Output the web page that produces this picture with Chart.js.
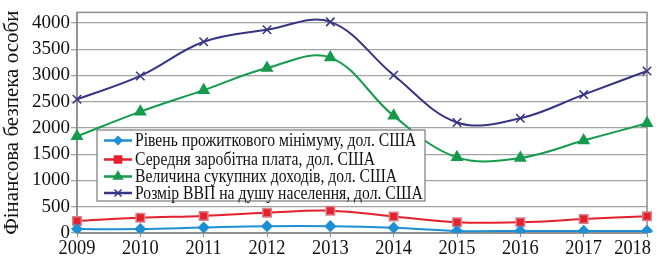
<!DOCTYPE html>
<html>
<head>
<meta charset="utf-8">
<script src="https://cdn.jsdelivr.net/npm/chart.js@4"></script>
<style>
  html, body { margin: 0; padding: 0; background: #fff; }
  #wrap { width: 663px; height: 256px; position: relative; }
</style>
</head>
<body>
<div id="wrap"><canvas id="incomeChart"></canvas></div>
<script>
const years = ["2009","2010","2011","2012","2013","2014","2015","2016","2017","2018"];
const subsistence = [75, 75, 105, 130, 130, 100, 40, 40, 40, 40];
const wage = [230, 290, 325, 385, 425, 315, 205, 205, 265, 320];
const income = [1840, 2310, 2720, 3140, 3340, 2230, 1440, 1430, 1760, 2090];
const gdp = [2545, 2990, 3640, 3870, 4020, 3005, 2105, 2185, 2635, 3085];
const yTicks = [0, 500, 1000, 1500, 2000, 2500, 3000, 3500, 4000];

const seriesNames = [
    "Рівень прожиткового мінімуму, дол. США",
    "Середня заробітна плата, дол. США",
    "Величина сукупних доходів, дол. США",
    "Розмір ВВП на душу населення, дол. США"
];

const serif = "'Liberation Serif', 'DejaVu Serif', serif";

// plot frame, year labels and the legend box inside the plot
const boxLegend = {
    id: "boxLegend",
    beforeDatasetsDraw(chart) {
        const a = chart.chartArea;
        const ctx = chart.ctx;
        ctx.save();
        ctx.strokeStyle = "#8c8c8c";
        ctx.lineWidth = 1.5;
        ctx.strokeRect(a.left, a.top, a.right - a.left, a.bottom - a.top);
        // year labels (a bit narrow, like the scan), last one kept inside
        const xs = chart.scales.x;
        ctx.font = "20px " + serif;
        ctx.fillStyle = "#111";
        ctx.textBaseline = "top";
        ctx.textAlign = "center";
        const sx = 0.92;
        years.forEach((yr, i) => {
            let px = xs.getPixelForTick(i);
            const half = ctx.measureText(yr).width * sx / 2;
            if (px + half > 651) px = 651 - half;
            ctx.save();
            ctx.translate(px, a.bottom + 6);
            ctx.scale(sx, 1);
            ctx.fillText(yr, 0, 0);
            ctx.restore();
        });
        ctx.restore();
    },
    afterDatasetsDraw(chart) {
        const ctx = chart.ctx;
        const x0 = 97, y0 = 130, w = 328, h = 71;
        ctx.save();
        ctx.fillStyle = "#fff";
        ctx.fillRect(x0, y0, w, h);
        ctx.strokeStyle = "#7a7a7a";
        ctx.lineWidth = 1.2;
        ctx.strokeRect(x0, y0, w, h);
        const rows = [140.5, 159.5, 176.5, 193];
        chart.data.datasets.forEach((ds, i) => {
            const y = rows[i];
            ctx.strokeStyle = ds.borderColor;
            ctx.fillStyle = ds.borderColor;
            ctx.lineWidth = 2.5;
            ctx.beginPath();
            ctx.moveTo(104, y);
            ctx.lineTo(132, y);
            ctx.stroke();
            ctx.lineWidth = 1.5;
            Chart.helpers.drawPoint(ctx, {
                pointStyle: ds.pointStyle,
                radius: ds.pointRadius - 1,
                borderWidth: 1.5
            }, 118, y);
            ctx.save();
            ctx.translate(135, y + 1);
            ctx.scale(0.87, 1);
            ctx.font = "18px " + serif;
            ctx.textBaseline = "middle";
            ctx.textAlign = "left";
            ctx.fillStyle = "#111";
            ctx.fillText(ds.label, 0, 0);
            ctx.restore();
        });
        ctx.restore();
    }
};

function lineSet(label, data, color, style, radius, edge) {
    return {
        label: label,
        data: data,
        borderColor: color,
        backgroundColor: color,
        pointBackgroundColor: color,
        pointBorderColor: edge || color,
        borderWidth: 2,
        pointStyle: style,
        pointRadius: radius,
        pointBorderWidth: 1.5,
        tension: 0.37,
        fill: false
    };
}

new Chart(document.getElementById("incomeChart"), {
    type: "line",
    data: {
        labels: years,
        datasets: [
            lineSet(seriesNames[0], subsistence, "#1f8fd3", "rectRot", 5),
            lineSet(seriesNames[1], wage, "#e3202c", "rect", 6, "#d9808a"),
            lineSet(seriesNames[2], income, "#169a4b", "triangle", 6),
            lineSet(seriesNames[3], gdp, "#363584", "crossRot", 6)
        ]
    },
    options: {
        responsive: true,
        maintainAspectRatio: false,
        animation: false,
        layout: { padding: { top: 9, right: 16, left: 0, bottom: 0 } },
        plugins: {
            legend: { display: false },
            tooltip: { enabled: false }
        },
        scales: {
            x: {
                offset: false,
                grid: { drawOnChartArea: false, drawTicks: true, tickLength: 4, color: "#8c8c8c" },
                border: { color: "#8c8c8c", width: 1.5 },
                ticks: { display: false },
                afterFit(scale) {
                    scale.height = 23;
                    scale.paddingLeft = 0;
                    scale.paddingRight = 0;
                }
            },
            y: {
                min: 0,
                max: 4200,
                afterBuildTicks(scale) {
                    scale.ticks = yTicks.map(v => ({ value: v }));
                },
                grid: { color: "#a3a3a3", lineWidth: 1.3, tickLength: 6 },
                border: { color: "#8c8c8c", width: 1.5 },
                ticks: {
                    color: "#111",
                    font: { family: serif, size: 19 },
                    padding: 1,
                    callback: v => String(v)
                },
                title: {
                    display: true,
                    text: "Фінансова безпека особи",
                    color: "#111",
                    font: { family: serif, size: 21 },
                    padding: { top: 0, bottom: 4 }
                },
                afterFit(scale) {
                    scale.width = 77;
                }
            }
        }
    },
    plugins: [boxLegend]
});
</script>
</body>
</html>
